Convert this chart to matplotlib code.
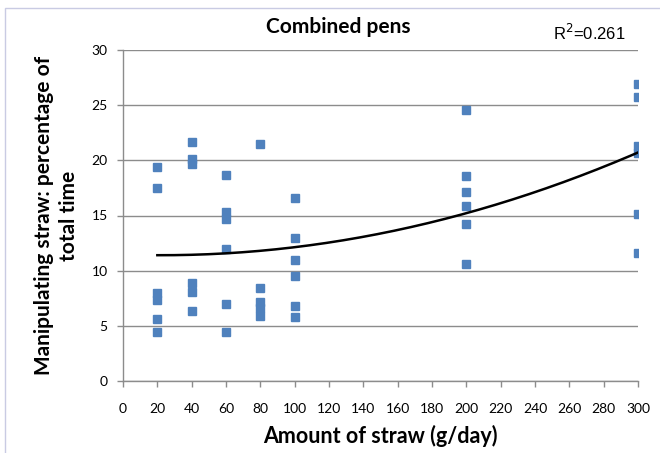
import numpy as np
import matplotlib
matplotlib.use("Agg")
import matplotlib.pyplot as plt
from matplotlib.patches import Rectangle

# straw amount (g/day) and % of time manipulating straw
straw_20 = [19.4, 17.5, 8.0, 7.3, 5.6, 4.4]
straw_40 = [21.7, 20.1, 19.7, 8.9, 8.1, 6.3]
straw_60 = [18.7, 15.3, 14.7, 12.0, 7.0, 4.4]
straw_80 = [21.5, 8.4, 7.2, 6.6, 5.9]
straw_100 = [16.6, 13.0, 11.0, 9.5, 6.8, 5.8]
straw_200 = [24.6, 18.6, 17.1, 15.9, 14.2, 10.6]
straw_300 = [26.9, 25.75, 21.3, 20.7, 15.1, 11.6]

amounts = [20, 40, 60, 80, 100, 200, 300]
groups = [straw_20, straw_40, straw_60, straw_80, straw_100, straw_200, straw_300]

x = np.concatenate([[a] * len(g) for a, g in zip(amounts, groups)])
y = np.concatenate(groups)

# order 2 polynomial trendline, like the spreadsheet one
coef = np.polyfit(x, y, 2)
xs = np.linspace(20, 300, 200)
ys = np.polyval(coef, xs)

plt.rcParams['font.family'] = ['Lato', 'DejaVu Sans']

fig = plt.figure(figsize=(6.6, 4.53), dpi=100)
ax = fig.add_axes([123 / 660, 72 / 453, 515 / 660, 331 / 453])

grid_c = '#8c8c8c'
ax.plot(x, y, 's', color='#4f81bd', ms=6.3, mec='#4f81bd', zorder=3)
ax.plot(xs, ys, color='black', lw=1.8, zorder=4)

ax.set_xlim(0, 300)
ax.set_ylim(0, 30)
ax.set_xticks(range(0, 301, 20))
ax.set_yticks(range(0, 31, 5))
ax.yaxis.grid(True, color=grid_c, lw=1)
ax.set_axisbelow(True)
for s in ['top', 'right']:
    ax.spines[s].set_visible(False)
for s in ['left', 'bottom']:
    ax.spines[s].set_color(grid_c)
    ax.spines[s].set_linewidth(1)
ax.tick_params(axis='both', colors=grid_c, length=4, width=1, labelcolor='black', labelsize=10)
ax.tick_params(axis='x', pad=12)
ax.tick_params(axis='y', pad=7)

ax.set_xlabel('Amount of straw (g/day)', fontsize=15.5, fontweight='bold', labelpad=7)
ax.set_ylabel('Manipulating straw: percentage of\ntotal time', fontsize=15,
              fontweight='bold', labelpad=9, linespacing=1.3)

fig.text(338 / 660, 1 - 27 / 453, 'Combined pens', ha='center', va='center',
         fontsize=15, fontweight='bold')
fig.text(589 / 660, 1 - 33 / 453, 'R$^2$=0.261', ha='center', va='center',
         fontsize=12, family=['Liberation Sans', 'DejaVu Sans'])

fig.patches.append(Rectangle((5 / 660, -0.01), 1.0, 1 - 8 / 453 + 0.01, transform=fig.transFigure,
                             fill=False, ec='#c9cbe3', lw=1))

fig.savefig('out.png', dpi=100)
